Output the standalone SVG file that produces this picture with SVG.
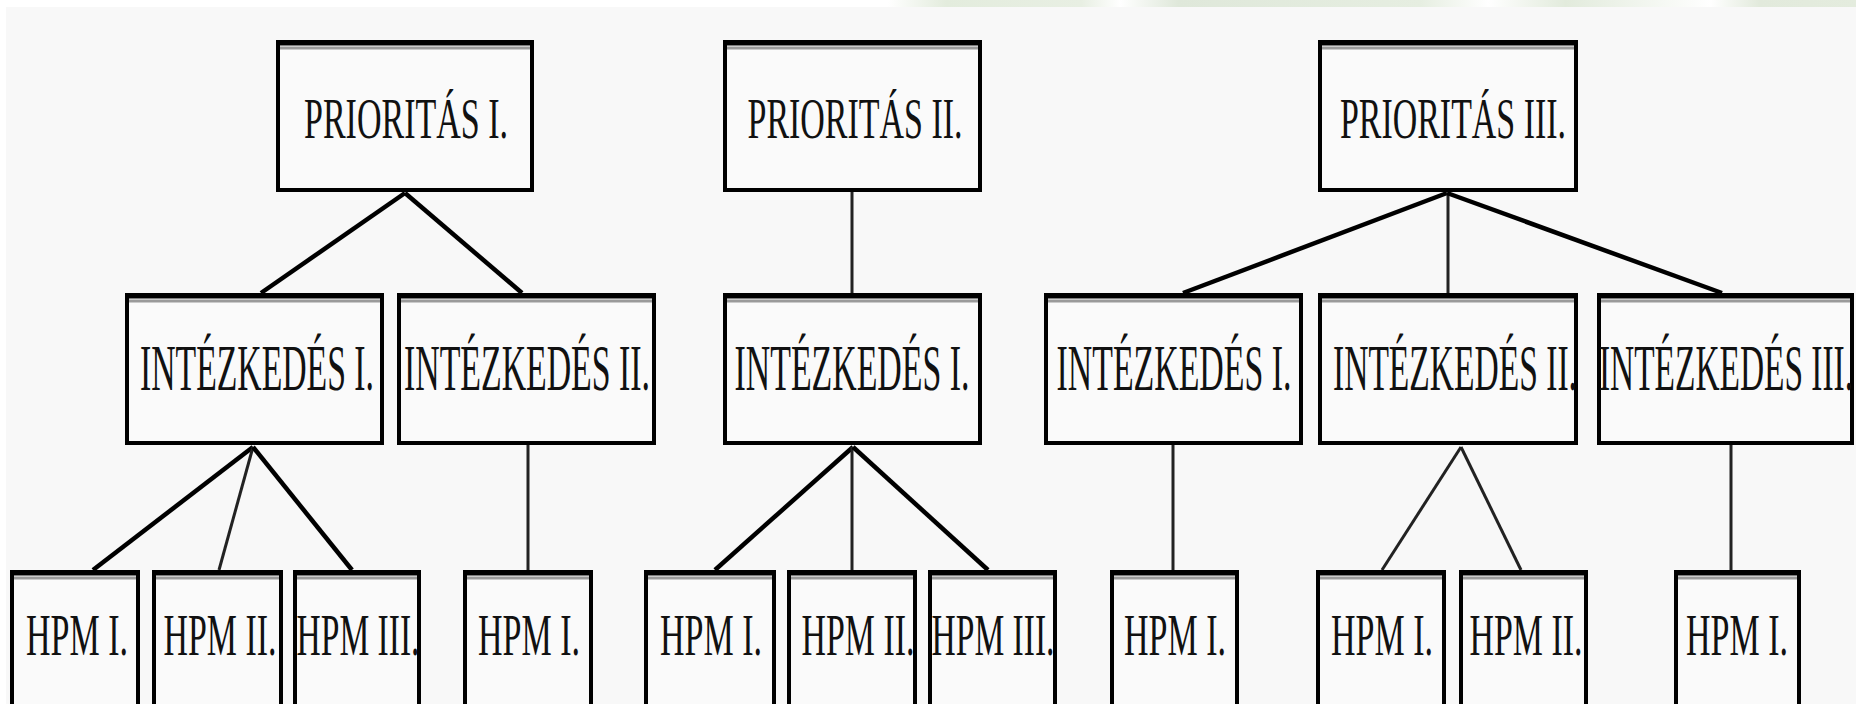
<svg xmlns="http://www.w3.org/2000/svg" width="1856" height="704" viewBox="0 0 1856 704">
<defs>
<linearGradient id="band" x1="0" y1="0" x2="1" y2="0">
<stop offset="0" stop-color="#ffffff"/>
<stop offset="0.06" stop-color="#e3ecdd"/>
<stop offset="0.2" stop-color="#e8efe3"/>
<stop offset="0.24" stop-color="#ffffff"/>
<stop offset="0.3" stop-color="#dfe8da"/>
<stop offset="0.55" stop-color="#e6eee1"/>
<stop offset="0.62" stop-color="#ffffff"/>
<stop offset="0.7" stop-color="#e2ebdc"/>
<stop offset="0.85" stop-color="#ffffff"/>
<stop offset="0.9" stop-color="#e2eadc"/>
<stop offset="1" stop-color="#e4ecde"/>
</linearGradient>
</defs>
<style>
.box{fill:#fafafa;stroke:#000;stroke-width:4}
.top{stroke:#000;stroke-width:5}
.shade{stroke:#9a9a9a;stroke-width:3}
.t{font-family:"Liberation Serif","Times New Roman",serif;fill:#111;text-anchor:middle}
.p{font-size:57px}
.i{font-size:65px}
.h{font-size:59px}
.thick{stroke:#000;stroke-width:4.5;fill:none;stroke-linecap:butt}
.thin{stroke:#222;stroke-width:3;fill:none}
</style>
<rect x="0" y="0" width="1856" height="704" fill="#ffffff"/>
<rect x="6" y="7" width="1850" height="697" fill="#f8f8f8"/>
<rect x="888" y="0" width="968" height="7" fill="url(#band)"/>

<g id="connectors">
<line class="thick" x1="405" y1="193" x2="261" y2="293"/>
<line class="thick" x1="405" y1="193" x2="522" y2="293"/>
<line class="thick" x1="253" y1="447" x2="93" y2="570"/>
<line class="thin" x1="253" y1="447" x2="219" y2="570"/>
<line class="thick" x1="253" y1="447" x2="352" y2="570"/>
<line class="thin" x1="528" y1="445" x2="528" y2="570"/>
<line class="thin" x1="852" y1="192" x2="852" y2="293"/>
<line class="thick" x1="853" y1="447" x2="715" y2="570"/>
<line class="thin" x1="852" y1="447" x2="852" y2="570"/>
<line class="thick" x1="853" y1="447" x2="988" y2="570"/>
<line class="thick" x1="1447" y1="193" x2="1183" y2="293"/>
<line class="thin" x1="1448" y1="193" x2="1448" y2="293"/>
<line class="thick" x1="1447" y1="193" x2="1722" y2="293"/>
<line class="thin" x1="1173" y1="445" x2="1173" y2="570"/>
<line class="thin" x1="1461" y1="447" x2="1382" y2="570"/>
<line class="thin" x1="1461" y1="447" x2="1521" y2="570"/>
<line class="thin" x1="1731" y1="445" x2="1731" y2="570"/>
</g>

<g id="p1"><rect class="box" x="278" y="42" width="254" height="148"/><line class="top" x1="276" y1="43" x2="534" y2="43"/><line class="shade" x1="280" y1="48" x2="530" y2="48"/><text class="t p" x="406" y="138" textLength="204" lengthAdjust="spacingAndGlyphs">PRIORITÁS I.</text></g>
<g id="p2"><rect class="box" x="725" y="42" width="255" height="148"/><line class="top" x1="723" y1="43" x2="982" y2="43"/><line class="shade" x1="727" y1="48" x2="978" y2="48"/><text class="t p" x="855" y="138" textLength="215" lengthAdjust="spacingAndGlyphs">PRIORITÁS II.</text></g>
<g id="p3"><rect class="box" x="1320" y="42" width="256" height="148"/><line class="top" x1="1318" y1="43" x2="1578" y2="43"/><line class="shade" x1="1322" y1="48" x2="1574" y2="48"/><text class="t p" x="1453" y="138" textLength="226" lengthAdjust="spacingAndGlyphs">PRIORITÁS III.</text></g>

<g id="i1"><rect class="box" x="127" y="295" width="255" height="148"/><line class="top" x1="125" y1="296" x2="384" y2="296"/><line class="shade" x1="129" y1="301" x2="380" y2="301"/><text class="t i" x="257" y="390" textLength="234" lengthAdjust="spacingAndGlyphs">INTÉZKEDÉS I.</text></g>
<g id="i2"><rect class="box" x="399" y="295" width="255" height="148"/><line class="top" x1="397" y1="296" x2="656" y2="296"/><line class="shade" x1="401" y1="301" x2="652" y2="301"/><text class="t i" x="527" y="390" textLength="246" lengthAdjust="spacingAndGlyphs">INTÉZKEDÉS II.</text></g>
<g id="i3"><rect class="box" x="725" y="295" width="255" height="148"/><line class="top" x1="723" y1="296" x2="982" y2="296"/><line class="shade" x1="727" y1="301" x2="978" y2="301"/><text class="t i" x="852" y="390" textLength="235" lengthAdjust="spacingAndGlyphs">INTÉZKEDÉS I.</text></g>
<g id="i4"><rect class="box" x="1046" y="295" width="255" height="148"/><line class="top" x1="1044" y1="296" x2="1303" y2="296"/><line class="shade" x1="1048" y1="301" x2="1299" y2="301"/><text class="t i" x="1174" y="390" textLength="235" lengthAdjust="spacingAndGlyphs">INTÉZKEDÉS I.</text></g>
<g id="i5"><rect class="box" x="1320" y="295" width="256" height="148"/><line class="top" x1="1318" y1="296" x2="1578" y2="296"/><line class="shade" x1="1322" y1="301" x2="1574" y2="301"/><text class="t i" x="1455" y="390" textLength="244" lengthAdjust="spacingAndGlyphs">INTÉZKEDÉS II.</text></g>
<g id="i6"><rect class="box" x="1599" y="295" width="253" height="148"/><line class="top" x1="1597" y1="296" x2="1854" y2="296"/><line class="shade" x1="1601" y1="301" x2="1850" y2="301"/><text class="t i" x="1726" y="390" textLength="254" lengthAdjust="spacingAndGlyphs">INTÉZKEDÉS III.</text></g>

<g id="h1"><rect class="box" x="12" y="572" width="126" height="150"/><line class="top" x1="10" y1="573" x2="140" y2="573"/><line class="shade" x1="14" y1="578" x2="136" y2="578"/><text class="t h" x="77" y="655" textLength="102" lengthAdjust="spacingAndGlyphs">HPM I.</text></g>
<g id="h2"><rect class="box" x="154" y="572" width="127" height="150"/><line class="top" x1="152" y1="573" x2="283" y2="573"/><line class="shade" x1="156" y1="578" x2="279" y2="578"/><text class="t h" x="220" y="655" textLength="113" lengthAdjust="spacingAndGlyphs">HPM II.</text></g>
<g id="h3"><rect class="box" x="295" y="572" width="124" height="150"/><line class="top" x1="293" y1="573" x2="421" y2="573"/><line class="shade" x1="297" y1="578" x2="417" y2="578"/><text class="t h" x="358" y="655" textLength="123" lengthAdjust="spacingAndGlyphs">HPM III.</text></g>
<g id="h4"><rect class="box" x="465" y="572" width="126" height="150"/><line class="top" x1="463" y1="573" x2="593" y2="573"/><line class="shade" x1="467" y1="578" x2="589" y2="578"/><text class="t h" x="529" y="655" textLength="102" lengthAdjust="spacingAndGlyphs">HPM I.</text></g>
<g id="h5"><rect class="box" x="646" y="572" width="128" height="150"/><line class="top" x1="644" y1="573" x2="776" y2="573"/><line class="shade" x1="648" y1="578" x2="772" y2="578"/><text class="t h" x="711" y="655" textLength="102" lengthAdjust="spacingAndGlyphs">HPM I.</text></g>
<g id="h6"><rect class="box" x="789" y="572" width="126" height="150"/><line class="top" x1="787" y1="573" x2="917" y2="573"/><line class="shade" x1="791" y1="578" x2="913" y2="578"/><text class="t h" x="858" y="655" textLength="113" lengthAdjust="spacingAndGlyphs">HPM II.</text></g>
<g id="h7"><rect class="box" x="930" y="572" width="125" height="150"/><line class="top" x1="928" y1="573" x2="1057" y2="573"/><line class="shade" x1="932" y1="578" x2="1053" y2="578"/><text class="t h" x="993" y="655" textLength="123" lengthAdjust="spacingAndGlyphs">HPM III.</text></g>
<g id="h8"><rect class="box" x="1112" y="572" width="125" height="150"/><line class="top" x1="1110" y1="573" x2="1239" y2="573"/><line class="shade" x1="1114" y1="578" x2="1235" y2="578"/><text class="t h" x="1175" y="655" textLength="102" lengthAdjust="spacingAndGlyphs">HPM I.</text></g>
<g id="h9"><rect class="box" x="1318" y="572" width="126" height="150"/><line class="top" x1="1316" y1="573" x2="1446" y2="573"/><line class="shade" x1="1320" y1="578" x2="1442" y2="578"/><text class="t h" x="1382" y="655" textLength="102" lengthAdjust="spacingAndGlyphs">HPM I.</text></g>
<g id="h10"><rect class="box" x="1461" y="572" width="125" height="150"/><line class="top" x1="1459" y1="573" x2="1588" y2="573"/><line class="shade" x1="1463" y1="578" x2="1584" y2="578"/><text class="t h" x="1526" y="655" textLength="113" lengthAdjust="spacingAndGlyphs">HPM II.</text></g>
<g id="h11"><rect class="box" x="1676" y="572" width="123" height="150"/><line class="top" x1="1674" y1="573" x2="1801" y2="573"/><line class="shade" x1="1678" y1="578" x2="1797" y2="578"/><text class="t h" x="1737" y="655" textLength="102" lengthAdjust="spacingAndGlyphs">HPM I.</text></g>
</svg>
